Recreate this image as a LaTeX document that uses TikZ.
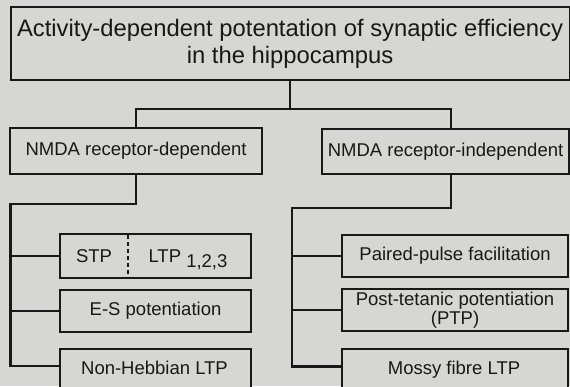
\documentclass[tikz,border=0pt]{standalone}
\usepackage{fontspec}
\setmainfont{Liberation Sans}
\usetikzlibrary{calc}
\definecolor{paper}{RGB}{214,214,212}
\definecolor{ink}{RGB}{24,24,24}
\tikzset{
  box/.style={draw=ink, line width=2.1pt, fill=paper, inner sep=0pt, anchor=north west, text=ink,
    font=\fontsize{18.5}{19}\selectfont, align=center},
  conn/.style={draw=ink, line width=2.1pt, line join=miter},
  lbl/.style={text=ink, inner sep=0pt, anchor=base, font=\fontsize{18.5}{17}\selectfont}
}
\begin{document}
\begin{tikzpicture}[x=1pt,y=-1pt]
\useasboundingbox (0,0) rectangle (570,386);
\clip (0,0) rectangle (570,386);
\fill[paper] (0,0) rectangle (570,386);

\node[box, minimum width=559pt, minimum height=73pt, font=\fontsize{23.8}{27}\selectfont] (top) at (9.5,6)
  {Activity-dependent potentation of synaptic efficiency\\in the hippocampus};

\node[box, minimum width=252pt, minimum height=46pt] (ndep) at (9,127) {NMDA receptor-dependent};
\node[box, minimum width=247pt, minimum height=45pt] (nind) at (321,128) {NMDA receptor-independent};

\node[box, minimum width=191pt, minimum height=44pt] (stp) at (59,233) {};
\node[box, minimum width=191pt, minimum height=42pt] (es) at (59,289) {E-S potentiation};
\node[box, minimum width=191pt, minimum height=50pt] (nh) at (59,348) {};
\node[lbl] (nhl) at (154.5,374) {Non-Hebbian LTP};

\node[box, minimum width=226pt, minimum height=42pt] (ppf) at (341,234) {Paired-pulse facilitation};
\node[box, minimum width=226pt, minimum height=42pt] (ptp) at (341,288) {Post-tetanic potentiation\\(PTP)};
\node[box, minimum width=226pt, minimum height=50pt] (mf) at (341,348) {};
\node[lbl] (mfl) at (454,374) {Mossy fibre LTP};

\node[lbl] (stpl) at (94,262) {STP};
\node[lbl] (ltpl) at (188,262) {LTP \raisebox{-5pt}{1,2,3}};
\draw[draw=ink, line width=1.6pt, dash pattern=on 4pt off 3pt]
  ($(stp.north west)+(69,2)$) -- ($(stp.south west)+(69,-2)$);

% top level connectors
\coordinate (bus) at (0,109);
\coordinate (nindin) at ($(nind.north)+(5.5,0)$);
\draw[conn] (top.south) -- (top.south |- bus);
\draw[conn] (ndep.north) -- (ndep.north |- bus) -- (nindin |- bus) -- (nindin);

% left tree
\coordinate (Lsp) at (10.5,204);
\coordinate (nhin) at ($(nh.north west)+(0,18)$);
\draw[conn] (ndep.south) |- (Lsp) -- (Lsp |- nhin) -- (nhin);
\draw[conn] (Lsp |- stp.west) -- (stp.west);
\draw[conn] (Lsp |- es.west) -- (es.west);

% right tree
\coordinate (nindout) at ($(nind.south)+(5.5,0)$);
\coordinate (Rsp) at (292,208);
\coordinate (mfin) at ($(mf.north west)+(0,18.5)$);
\draw[conn] (nindout) |- (Rsp) -- (Rsp |- mfin) -- (mfin);
\draw[conn] (Rsp |- ppf.west) -- (ppf.west);
\draw[conn] (Rsp |- ptp.west) -- (ptp.west);
\end{tikzpicture}
\end{document}
